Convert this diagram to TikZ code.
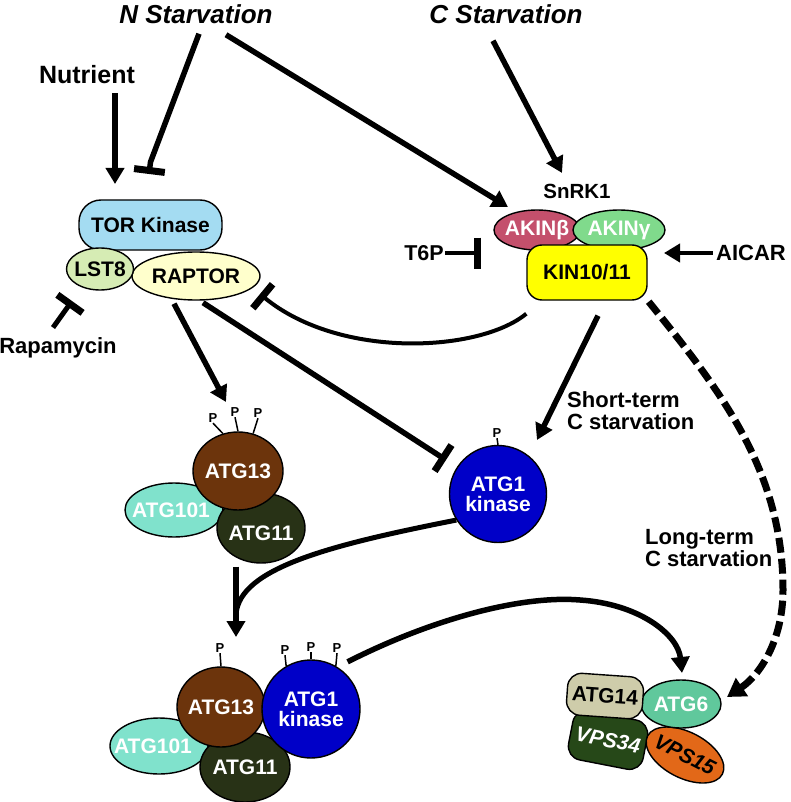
\documentclass[tikz,border=0pt]{standalone}
\usepackage{fontspec}
\setmainfont{Liberation Sans}
\usetikzlibrary{arrows.meta,shapes.geometric}
\definecolor{torc}{RGB}{164,220,242}
\definecolor{lstc}{RGB}{214,236,180}
\definecolor{rapc}{RGB}{255,255,204}
\definecolor{akbc}{RGB}{196,80,108}
\definecolor{akgc}{RGB}{128,218,140}
\definecolor{kinc}{RGB}{255,255,0}
\definecolor{a13c}{RGB}{108,52,12}
\definecolor{a101c}{RGB}{128,226,204}
\definecolor{a11c}{RGB}{40,50,22}
\definecolor{a1c}{RGB}{0,0,200}
\definecolor{a14c}{RGB}{206,204,170}
\definecolor{a6c}{RGB}{96,200,156}
\definecolor{v34c}{RGB}{38,72,24}
\definecolor{v15c}{RGB}{226,104,24}
\begin{document}
\begin{tikzpicture}[x=1pt,y=-1pt,
 txt/.style={inner sep=0pt,font=\bfseries\fontsize{22}{22}\selectfont},
 ttl/.style={inner sep=0pt,font=\bfseries\itshape\fontsize{26}{26}\selectfont},
 ent/.style={draw=black,line width=1.4pt,inner sep=0pt},
 ink/.style={inner sep=0pt,font=\bfseries\fontsize{21}{20}\selectfont,align=center},
 ell/.style={ent,ellipse},
 act/.style={line width=5.5pt,-{Triangle[length=16pt,width=18pt]}},
 inh/.style={line width=5.5pt,-{Bar[width=31pt,line width=7pt]}},
 dsh/.style={line width=7pt,dash pattern=on 15pt off 6pt,-{Triangle[length=18pt,width=21pt]}},
 ph/.style={inner sep=0.5pt,font=\bfseries\fontsize{13}{13}\selectfont},
 stk/.style={line width=1.5pt},
]
\useasboundingbox (0,0) rectangle (791,802);

% ---------- text labels ----------
\node[ttl] (nstar) at (196,14) {N Starvation};
\node[ttl] (cstar) at (506,14) {C Starvation};
\node[txt,font=\bfseries\fontsize{25}{25}\selectfont] (nutr) at (87,75) {Nutrient};
\node[txt] (rapa) at (58,348) {Rapamycin};
\node[txt,font=\bfseries\fontsize{21.5}{21.5}\selectfont] (t6p) at (424,253) {T6P};
\node[txt] (aicar) at (751,253) {AICAR};
\node[txt,font=\bfseries\fontsize{20.5}{20.5}\selectfont] (snrk) at (577,191) {SnRK1};
\node[txt,anchor=west,align=left] (shortt) at (567,411) {Short-term\\C starvation};
\node[txt,anchor=west,align=left] (longt) at (645,548) {Long-term\\C starvation};

% ---------- TOR complex ----------
\node[ent,rectangle,rounded corners=22pt,fill=torc,minimum width=143pt,minimum height=50pt,ink] (tor) at (150.5,225) {TOR Kinase};
\node[ell,fill=rapc,minimum width=128pt,minimum height=48pt,label={[ink]center:RAPTOR}] (raptor) at (196,276) {};
\node[ell,fill=lstc,minimum width=67pt,minimum height=42pt,label={[ink]center:LST8}] (lst8) at (100,269) {};

% ---------- SnRK1 complex ----------
\node[ell,fill=akbc,minimum width=86pt,minimum height=40pt,label={[ink,text=white]center:AKINβ}] (akb) at (537,230) {};
\node[ell,fill=akgc,minimum width=92pt,minimum height=40pt,label={[ink,text=white]center:AKINγ}] (akg) at (619,230) {};
\node[ent,rectangle,rounded corners=15pt,fill=kinc,minimum width=120pt,minimum height=55pt,ink] (kin) at (587,272.5) {KIN10/11};

% ---------- ATG13 complex (middle) ----------
\node[ell,fill=a101c,minimum width=98pt,minimum height=54pt,label={[ink,text=white,xshift=-3pt]center:ATG101}] (a101) at (174,510) {};
\node[ell,fill=a11c,minimum width=88pt,minimum height=70pt,label={[ink,text=white,yshift=-5pt]center:ATG11}] (a11) at (261,528) {};
\node[ell,fill=a13c,minimum width=90pt,minimum height=78pt,label={[ink,text=white]center:ATG13}] (a13) at (238,471) {};
\node[ph] (p1) at (213,418) {P};
\node[ph] (p2) at (235,412) {P};
\node[ph] (p3) at (258,413) {P};
\draw[stk] (a13.112) -- (p1.south);
\draw[stk] (a13.90) -- (p2.south);
\draw[stk] (a13.68) -- (p3.south);

% ---------- ATG1 kinase (middle) ----------
\node[ent,circle,fill=a1c,minimum size=97pt,ink,text=white] (a1) at (498,494) {ATG1\\kinase};
\node[ph] (p4) at (497,433) {P};
\draw[stk] (a1.90) -- (p4.south);

% ---------- bottom ATG1 complex ----------
\node[ell,fill=a101c,minimum width=98pt,minimum height=56pt,label={[ink,text=white,xshift=-6pt]center:ATG101}] (a101b) at (159,746) {};
\node[ell,fill=a11c,minimum width=90pt,minimum height=70pt,label={[ink,text=white]center:ATG11}] (a11b) at (245,767) {};
\node[ell,fill=a13c,minimum width=88pt,minimum height=80pt,label={[ink,text=white]center:ATG13}] (a13b) at (221,707) {};
\node[ent,circle,fill=a1c,minimum size=98pt,ink,text=white] (a1b) at (311,709) {ATG1\\kinase};
\node[ph] (p5) at (220,648) {P};
\node[ph] (p6) at (285,650) {P};
\node[ph] (p7) at (311,647) {P};
\node[ph] (p8) at (337,648) {P};
\draw[stk] (a13b.90) -- (p5.south);
\draw[stk] (a1b.120) -- (p6.south);
\draw[stk] (a1b.90) -- (p7.south);
\draw[stk] (a1b.60) -- (p8.south);

% ---------- PI3K complex ----------
\node[ent,rectangle,rounded corners=14pt,fill=v34c,minimum width=76pt,minimum height=50pt,rotate=-11,ink,text=white] (v34) at (608,740) {\itshape VPS34};
\node[ell,fill=v15c,minimum width=84pt,minimum height=46pt,rotate=-27,label={[ink,rotate=-27]center:\itshape VPS15}] (v15) at (685,755) {};
\node[ell,fill=a6c,minimum width=80pt,minimum height=48pt,label={[ink,text=white]center:ATG6}] (a6) at (681,704) {};
\node[ent,rectangle,rounded corners=14pt,fill=a14c,minimum width=76pt,minimum height=42pt,rotate=-4,ink] (a14) at (605,696) {ATG14};

% ---------- connectors ----------
\coordinate (torin) at (115,184);
\draw[act] ([xshift=28pt,yshift=-9pt]nutr.south) -- (torin);

\coordinate (torbend) at (150.5,162);
\coordinate (torbar) at (149,174);
\draw[inh] ([xshift=3pt,yshift=-10pt]nstar.south) -- (torbend) -- (torbar);

\coordinate (snin) at (508,207);
\draw[act] ([xshift=30pt,yshift=-11pt]nstar.south) -- (snin);
\coordinate (snin2) at (562,173);
\draw[act] ([xshift=-13pt,yshift=-17pt]cstar.south) -- (snin2);

\coordinate (t6pbar) at (481,253);
\draw[inh,line width=4.5pt] ([xshift=1pt]t6p.east) -- (t6pbar);
\coordinate (aicin) at (664,253);
\draw[act,line width=4.5pt] ([xshift=-3pt]aicar.west) -- (aicin);

\coordinate (rapbar) at (72,301);
\draw[inh,line width=5pt] ([xshift=-5pt,yshift=10pt]rapa.north) -- (rapbar);

\coordinate (rapbar2) at (260,294);
\draw[line width=4pt,-{Bar[width=31pt,line width=7pt]}] ([yshift=-13pt]kin.south west) .. controls (480,352) and (340,360) .. (rapbar2);

\coordinate (a13in) at (226,402);
\draw[act] ([xshift=-22pt,yshift=-3pt]raptor.south) -- (a13in);
\coordinate (a1bar) at (446,460);
\draw[inh] ([xshift=7pt,yshift=-2pt]raptor.south) -- (a1bar);

\coordinate (a1in) at (537,440);
\draw[act] ([xshift=11pt,yshift=-15pt]kin.south) -- (a1in);

\coordinate (a6in2) at (727,697);
\draw[dsh] ([xshift=1pt,yshift=-1pt]kin.south east) .. controls (720,390) and (783,470) .. (783,590) .. controls (783,640) and (760,675) .. (a6in2);

\coordinate (cin) at (236,637);
\draw[act] ([xshift=-25pt,yshift=-3pt]a11.south) -- (cin);
\coordinate (merge) at (236,614);
\draw[line width=5pt] (a1.212) .. controls (330,545) and (240,568) .. (merge);

\coordinate (a6in) at (682,673);
\draw[act] ([shift={(6pt,8pt)}]a1b.52) .. controls (430,620) and (520,595) .. (580,600) .. controls (640,604) and (678,635) .. (a6in);
\end{tikzpicture}
\end{document}
